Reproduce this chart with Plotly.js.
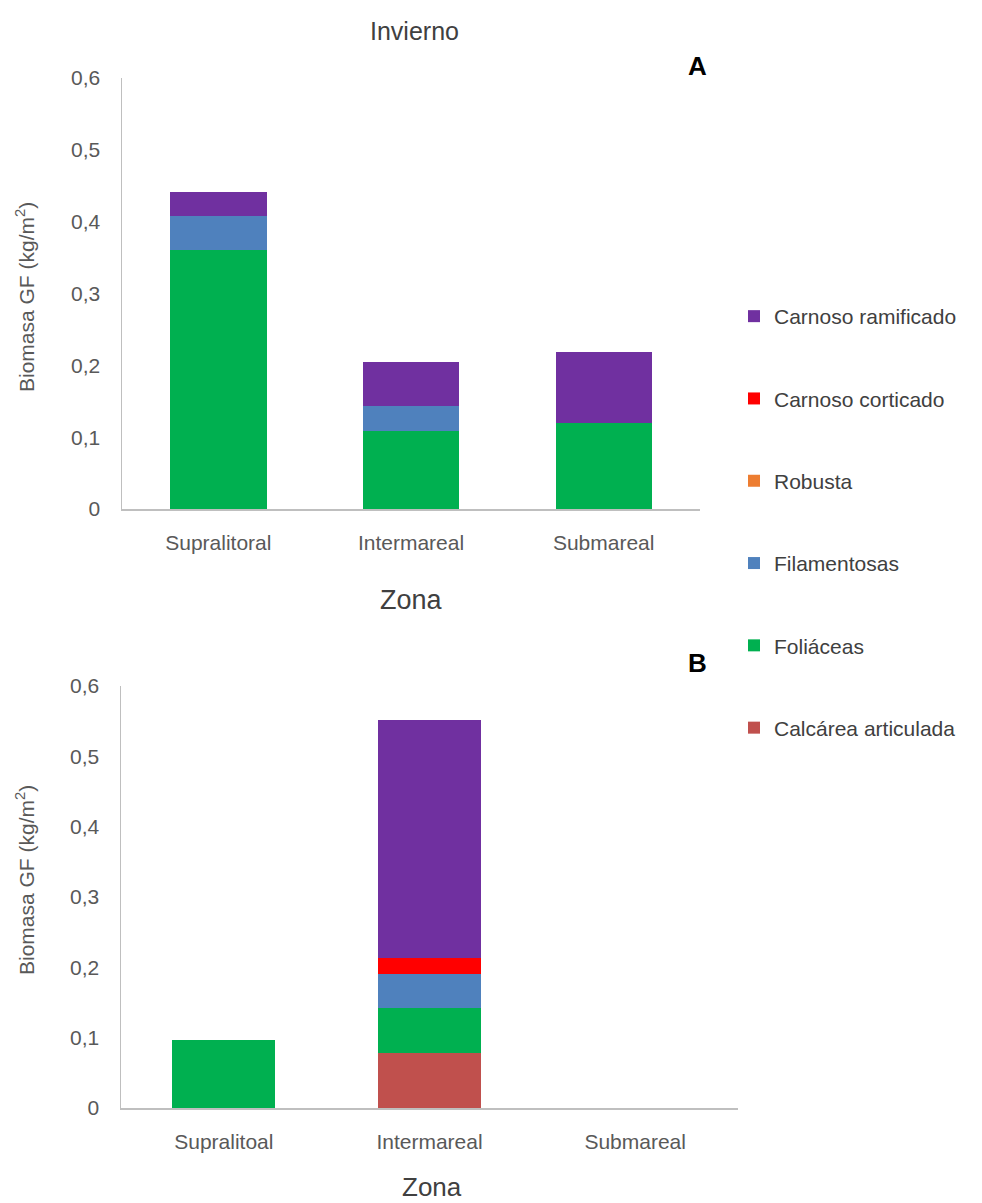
<!DOCTYPE html>
<html>
<head>
<meta charset="utf-8">
<script src="https://cdn.plot.ly/plotly-3.0.1.min.js"></script>
<style>html,body{margin:0;padding:0;background:#fff;}#chart{width:982px;height:1203px;}</style>
</head>
<body>
<div id="chart"></div>
<script>
// ---- data ----
const categoriesA = ["Supralitoral", "Intermareal", "Submareal"];
const categoriesB = ["Supralitoal", "Intermareal", "Submareal"];
const seriesNames = ["Calcárea articulada", "Foliáceas", "Filamentosas", "Robusta", "Carnoso corticado", "Carnoso ramificado"];
const seriesColors = ["#C0504D", "#00B050", "#4F81BD", "#ED7D31", "#FF0000", "#7030A0"];
// Panel A (Invierno)
const calcareaA = [0, 0, 0];
const foliaceasA = [0.361, 0.108, 0.120];
const filamentosasA = [0.047, 0.035, 0];
const robustaA = [0, 0, 0];
const corticadoA = [0, 0, 0];
const ramificadoA = [0.033, 0.061, 0.098];
// Panel B
const calcareaB = [0, 0.078, 0];
const foliaceasB = [0.097, 0.064, 0];
const filamentosasB = [0, 0.049, 0];
const robustaB = [0, 0, 0];
const corticadoB = [0, 0.022, 0];
const ramificadoB = [0, 0.338, 0];
const yTicks = [0, 0.1, 0.2, 0.3, 0.4, 0.5, 0.6];

const valuesA = [calcareaA, foliaceasA, filamentosasA, robustaA, corticadoA, ramificadoA];
const valuesB = [calcareaB, foliaceasB, filamentosasB, robustaB, corticadoB, ramificadoB];

const W = 982, H = 1203;
const px = v => v / W;
const py = v => 1 - v / H;

const traces = [];
seriesNames.forEach((name, i) => {
  traces.push({
    type: "bar", name: name, x: categoriesA, y: valuesA[i],
    marker: {color: seriesColors[i]}, xaxis: "x", yaxis: "y",
    legendgroup: "g" + i, legendrank: seriesNames.length - i,
    showlegend: true, hoverinfo: "name+y"
  });
});
seriesNames.forEach((name, i) => {
  traces.push({
    type: "bar", name: name, x: categoriesB, y: valuesB[i],
    marker: {color: seriesColors[i]}, xaxis: "x2", yaxis: "y2",
    legendgroup: "g" + i, legendrank: seriesNames.length - i,
    showlegend: false, hoverinfo: "name+y"
  });
});

const FONT = "Liberation Sans, Arial, sans-serif";
const tickFont = {family: FONT, size: 21, color: "#595959"};

function xAx(domain, anchor) {
  return {
    domain: domain, anchor: anchor, type: "category",
    showline: true, linecolor: "#BFBFBF", linewidth: 1.5,
    ticks: "", showgrid: false, zeroline: false,
    tickfont: tickFont, ticklabelstandoff: 14, fixedrange: true
  };
}
function yAx(domain, anchor) {
  return {
    domain: domain, anchor: anchor, range: [0, 0.6],
    tickvals: yTicks, showline: true, linecolor: "#BFBFBF", linewidth: 1.5,
    ticks: "", showgrid: false, zeroline: false,
    tickfont: tickFont, ticklabelstandoff: 16, fixedrange: true
  };
}

const ann = (text, x, y, size, opts) => Object.assign({
  text: text, x: px(x), y: py(y), xref: "paper", yref: "paper",
  xanchor: "center", yanchor: "middle", showarrow: false,
  font: {family: FONT, size: size, color: "#404040"}
}, opts || {});

const layout = {
  width: W, height: H,
  margin: {l: 0, r: 0, t: 0, b: 0},
  paper_bgcolor: "#fff", plot_bgcolor: "#fff",
  separators: ",.",
  barmode: "stack", bargap: 0.5,
  font: {family: FONT, color: "#404040"},
  xaxis: xAx([px(122), px(700)], "y"),
  yaxis: yAx([py(509), py(78)], "x"),
  xaxis2: xAx([px(121), px(738)], "y2"),
  yaxis2: yAx([py(1108), py(686)], "x2"),
  showlegend: true,
  legend: {
    x: px(734), xanchor: "left", y: py(296), yanchor: "top",
    traceorder: "grouped", tracegroupgap: 52,
    font: {family: FONT, size: 21, color: "#404040"},
    itemwidth: 30, bgcolor: "rgba(0,0,0,0)"
  },
  annotations: [
    ann("Invierno", 414, 31, 25),
    ann("<b>A</b>", 697, 66, 26, {font: {family: FONT, size: 26, color: "#000"}}),
    ann("<b>B</b>", 697, 663, 26, {font: {family: FONT, size: 26, color: "#000"}}),
    ann("Zona", 411, 600, 27),
    ann("Zona", 432, 1187, 26),
    ann("Biomasa GF (kg/m<sup>2</sup>)", 25, 297, 21, {textangle: -90, font: {family: FONT, size: 21, color: "#595959"}}),
    ann("Biomasa GF (kg/m<sup>2</sup>)", 25, 880, 21, {textangle: -90, font: {family: FONT, size: 21, color: "#595959"}})
  ]
};

Plotly.newPlot("chart", traces, layout, {displayModeBar: false, staticPlot: true});
</script>
</body>
</html>
